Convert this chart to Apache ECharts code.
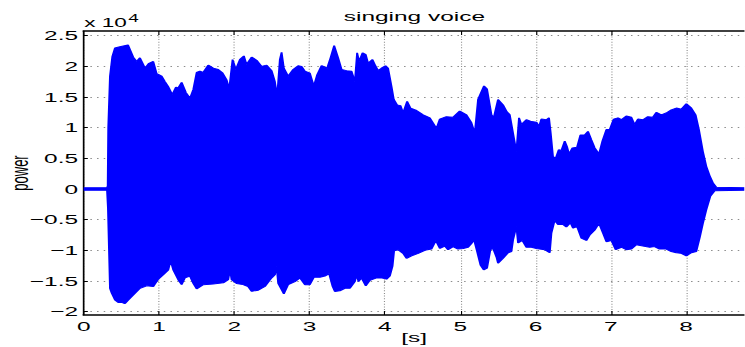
<!DOCTYPE html>
<html><head><meta charset="utf-8">
<script src="https://cdn.jsdelivr.net/npm/echarts@6/dist/echarts.min.js"></script>
<style>
html,body{margin:0;padding:0;background:#fff;overflow:hidden;width:745px;height:347px}
#c{width:396.28px;height:347px;transform:scaleX(1.88);transform-origin:0 0;}
</style>
</head><body><div id="c"></div>
<script>
// ---- data (values in units of 10^4, time in seconds) ----
const upperT = [0,0.31,0.319,0.326,0.349,0.380,0.415,0.482,0.588,0.658,0.703,0.747,0.814,0.867,0.924,0.969,1.035,1.079,1.123,1.176,1.225,1.255,1.301,1.358,1.411,1.455,1.500,1.543,1.587,1.654,1.720,1.786,1.845,1.898,1.932,1.977,2.021,2.074,2.127,2.163,2.230,2.296,2.362,2.429,2.495,2.539,2.569,2.605,2.628,2.658,2.715,2.782,2.848,2.893,2.937,3.003,3.056,3.100,3.159,3.233,3.278,3.326,3.379,3.424,3.490,3.557,3.601,3.631,3.658,3.703,3.746,3.777,3.835,3.866,3.910,3.955,4.008,4.042,4.088,4.118,4.162,4.207,4.242,4.295,4.340,4.419,4.507,4.596,4.685,4.729,4.817,4.905,4.994,5.083,5.149,5.193,5.237,5.316,5.356,5.415,5.445,5.502,5.569,5.614,5.658,5.702,5.746,5.781,5.813,5.879,5.946,6.012,6.047,6.078,6.145,6.179,6.202,6.232,6.268,6.308,6.344,6.388,6.418,6.445,6.490,6.551,6.596,6.653,6.697,6.742,6.786,6.843,6.888,6.941,6.985,7.038,7.095,7.140,7.206,7.273,7.316,7.360,7.427,7.493,7.559,7.604,7.671,7.737,7.804,7.870,7.936,8.003,8.069,8.126,8.170,8.223,8.268,8.312,8.356,8.401,8.775];
const upperV = [0.02,0.02,0.05,1.0,1.84,2.16,2.30,2.32,2.35,2.15,2.08,2.14,1.97,2.05,2.08,1.88,1.84,1.75,1.67,1.54,1.66,1.65,1.74,1.57,1.48,1.62,1.90,1.92,1.90,2.02,1.97,1.95,1.89,1.78,1.63,2.11,1.95,2.11,2.17,2.03,2.15,2.10,2.00,2.02,1.93,1.75,1.51,2.11,2.23,1.97,1.84,1.95,2.01,2.00,1.92,1.89,1.68,1.86,2.01,1.97,2.14,2.34,2.14,1.95,1.93,1.92,1.75,2.22,2.08,2.22,2.19,2.05,2.11,2.03,1.93,1.97,2.01,1.97,1.67,1.46,1.37,1.36,1.24,1.43,1.32,1.28,1.21,1.16,0.99,1.14,1.18,1.17,1.27,1.21,1.08,0.91,1.46,1.68,1.63,1.21,1.16,1.46,1.37,1.27,1.21,0.91,0.61,1.16,1.05,1.13,1.10,1.09,1.02,1.14,1.13,1.16,0.91,0.53,0.50,0.64,0.63,0.78,0.69,0.57,0.67,0.68,0.88,0.88,0.94,0.80,0.67,0.57,0.78,0.97,0.97,1.14,1.16,1.13,1.19,1.17,1.05,1.14,1.13,1.18,1.17,1.25,1.21,1.24,1.29,1.32,1.30,1.39,1.32,1.21,0.97,0.61,0.37,0.22,0.10,0.03,0.02];
const lowerT = [0,0.31,0.322,0.349,0.372,0.415,0.459,0.504,0.548,0.592,0.658,0.747,0.836,0.924,0.990,1.056,1.123,1.155,1.189,1.255,1.301,1.344,1.411,1.455,1.500,1.587,1.720,1.853,1.919,1.942,1.964,2.031,2.118,2.184,2.230,2.317,2.406,2.495,2.539,2.561,2.583,2.658,2.715,2.804,2.871,2.937,3.003,3.056,3.136,3.202,3.259,3.305,3.335,3.401,3.468,3.534,3.601,3.623,3.650,3.689,3.746,3.800,3.889,3.955,4.021,4.065,4.101,4.122,4.175,4.242,4.287,4.353,4.441,4.530,4.618,4.676,4.729,4.795,4.839,4.905,4.971,5.038,5.104,5.149,5.184,5.224,5.269,5.312,5.356,5.401,5.436,5.481,5.502,5.569,5.635,5.680,5.702,5.746,5.768,5.826,5.879,5.946,6.012,6.056,6.122,6.189,6.211,6.255,6.299,6.365,6.409,6.463,6.498,6.551,6.609,6.675,6.719,6.786,6.843,6.896,6.941,7.007,7.064,7.140,7.206,7.273,7.339,7.427,7.516,7.582,7.648,7.737,7.804,7.870,7.936,8.003,8.069,8.135,8.183,8.223,8.268,8.321,8.379,8.775];
const lowerV = [-0.02,-0.02,-0.3,-1.62,-1.70,-1.81,-1.85,-1.85,-1.87,-1.81,-1.73,-1.62,-1.58,-1.59,-1.47,-1.40,-1.32,-1.17,-1.32,-1.48,-1.56,-1.45,-1.42,-1.54,-1.63,-1.56,-1.55,-1.53,-1.48,-1.32,-1.48,-1.54,-1.56,-1.59,-1.67,-1.65,-1.59,-1.45,-1.40,-1.26,-1.54,-1.71,-1.56,-1.51,-1.45,-1.56,-1.56,-1.44,-1.44,-1.42,-1.38,-1.59,-1.67,-1.66,-1.62,-1.62,-1.51,-1.40,-1.51,-1.45,-1.58,-1.49,-1.45,-1.45,-1.47,-1.42,-1.26,-1.01,-0.99,-1.05,-1.13,-1.09,-1.05,-1.00,-0.98,-0.84,-0.97,-0.93,-0.99,-0.94,-0.98,-0.97,-0.95,-0.89,-0.83,-1.02,-1.24,-1.32,-1.29,-0.99,-0.97,-1.11,-1.21,-1.13,-1.04,-1.02,-0.83,-0.61,-0.88,-0.84,-0.95,-0.95,-0.97,-0.98,-0.99,-1.04,-0.72,-0.51,-0.58,-0.58,-0.62,-0.55,-0.64,-0.61,-0.80,-0.84,-0.75,-0.67,-0.56,-0.72,-0.86,-0.84,-0.99,-0.95,-0.99,-0.98,-0.91,-0.93,-0.95,-0.94,-0.98,-0.98,-1.02,-1.04,-1.05,-1.09,-1.04,-1.02,-0.78,-0.56,-0.34,-0.12,-0.03,-0.02];
const yTicks = [-2,-1.5,-1,-0.5,0,0.5,1,1.5,2,2.5];
const xTicks = [0,1,2,3,4,5,6,7,8];
const titleText = 'singing voice';
const xName = '[s]';
const yName = 'power';
const expBase = 'x 10';
const expPow = '4';

// ---- layout (unscaled coords; container is stretched horizontally) ----
const S = 1.88;
const FONT = '"Liberation Sans", Arial, Helvetica, sans-serif';
const el = document.getElementById('c');
const chart = echarts.init(el, null, {renderer: 'svg'});
const fmtY = v => (v < 0 ? '\u2212' : '') + String(Math.abs(v));
const blue = '#0000ff';

chart.setOption({
  animation: false,
  backgroundColor: '#fff',
  textStyle: {fontFamily: FONT},
  grid: {left: 83.7 / S, right: 0, top: 31, bottom: 32, containLabel: false, outerBoundsMode: 'none'},
  graphic: [
    {type: 'text', x: 414.4 / S, y: 16.5, style: {text: titleText, font: '13px ' + FONT, fill: '#000', align: 'center', verticalAlign: 'middle'}},
    {type: 'text', x: 84.3 / S, y: 22.6, style: {text: expBase, font: '12px ' + FONT, fill: '#000', align: 'left', verticalAlign: 'middle'}},
    {type: 'text', x: 128.3 / S, y: 18.6, style: {text: expPow, font: '10px ' + FONT, fill: '#000', align: 'left', verticalAlign: 'middle'}}
  ],
  xAxis: [{
    type: 'value', min: 0, max: 8.775, interval: 1, position: 'bottom',
    name: xName, nameLocation: 'middle', nameGap: 16, nameMoveOverlap: false,
    nameTextStyle: {color: '#000', fontSize: 13, fontFamily: FONT},
    axisLine: {show: true, onZero: false, lineStyle: {color: '#000', width: 1.5}},
    axisTick: {show: true, inside: true, length: 4, lineStyle: {color: '#000', width: 0.6}},
    axisLabel: {color: '#000', fontSize: 13, fontFamily: FONT, margin: 5, showMaxLabel: false,
      formatter: v => (xTicks.indexOf(v) >= 0 ? String(v) : '')},
    splitLine: {show: true, lineStyle: {color: '#8c8c8c', width: 0.6, type: [1, 1.7]}}
  }, {
    type: 'value', min: 0, max: 8.775, interval: 1, position: 'top',
    axisLine: {show: true, onZero: false, lineStyle: {color: '#000', width: 1.5}},
    axisTick: {show: true, inside: true, length: 4, lineStyle: {color: '#000', width: 0.6}},
    axisLabel: {show: false}, splitLine: {show: false}
  }],
  yAxis: [{
    type: 'value', min: -2.055, max: 2.5767, position: 'left',
    name: yName, nameLocation: 'middle', nameGap: 28, nameMoveOverlap: false,
    nameTextStyle: {color: '#000', fontSize: 13, fontFamily: FONT},
    axisLine: {show: true, onZero: false, lineStyle: {color: '#000', width: 0.9}},
    axisTick: {show: true, inside: true, length: 2.2, customValues: yTicks, lineStyle: {color: '#000', width: 1}},
    axisLabel: {color: '#000', fontSize: 13, fontFamily: FONT, margin: 3, customValues: yTicks, formatter: fmtY},
    splitLine: {show: true, lineStyle: {color: '#8c8c8c', width: 1, type: [0.8, 2.75]}}
  }],
  series: [{
    type: 'line', name: 'upper', showSymbol: false, symbol: 'none',
    data: upperT.map((t, i) => [t, upperV[i]]),
    lineStyle: {color: blue, width: 1}, itemStyle: {color: blue},
    areaStyle: {color: blue, opacity: 1}
  }, {
    type: 'line', name: 'lower', showSymbol: false, symbol: 'none',
    data: lowerT.map((t, i) => [t, lowerV[i]]),
    lineStyle: {color: blue, width: 1}, itemStyle: {color: blue},
    areaStyle: {color: blue, opacity: 1}
  }]
});
</script>
</body></html>
